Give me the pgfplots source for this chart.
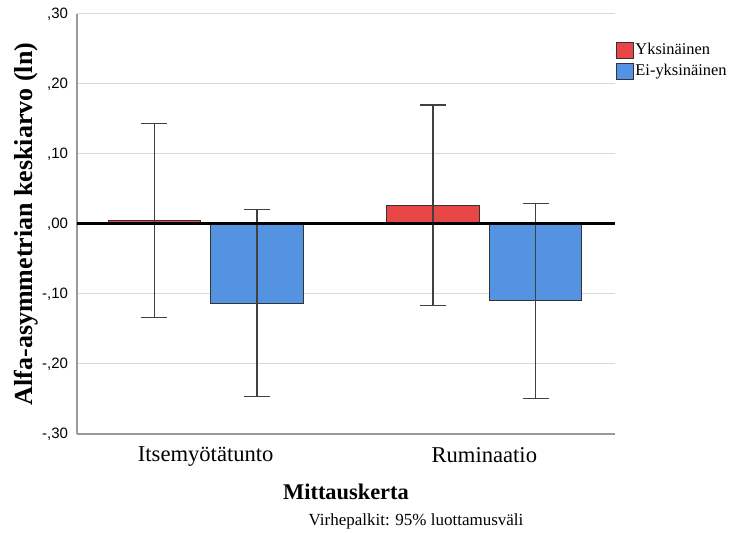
\documentclass[border=0pt]{standalone}
\usepackage{fontspec}
\setmainfont{Liberation Serif}
\setsansfont{Liberation Sans}
\usepackage{pgfplots}
\pgfplotsset{compat=1.18}
\definecolor{redbar}{HTML}{E94648}
\definecolor{bluebar}{HTML}{5393E2}
\begin{document}
\begin{tikzpicture}
\useasboundingbox (-38.5pt,-49.5pt) rectangle (326pt,217pt);
\begin{axis}[
  at={(0pt,0pt)}, anchor=south west,
  width=269pt, height=210pt, scale only axis,
  xmin=-0.462, xmax=1.469,
  ymin=-0.3, ymax=0.3,
  axis x line*=bottom, axis y line*=left,
  axis line style={gray!80, line width=0.6pt},
  ymajorgrids, grid style={gray!30, line width=0.5pt},
  major tick length=0pt,
  xtick={0,1}, xticklabels={Itsemyötätunto,Ruminaatio},
  xticklabel style={font=\fontsize{11.3}{13}\selectfont, yshift=-3pt},
  ytick={-0.3,-0.2,-0.1,0,0.1,0.2,0.3},
  yticklabels={{-,30},{-,20},{-,10},{,00},{,10},{,20},{,30}},
  yticklabel style={font=\sffamily\fontsize{7.5}{8}\selectfont, xshift=-1pt},
  xlabel={Mittauskerta},
  xlabel style={font=\bfseries\fontsize{11.2}{13}\selectfont, at={(axis description cs:0.5,0)}, anchor=center, yshift=-29pt},
  ylabel={Alfa-asymmetrian keskiarvo (ln)},
  ylabel style={font=\bfseries\fontsize{13}{15}\selectfont, at={(axis description cs:0,0.5)}, anchor=center, yshift=25.5pt},
  ybar, bar width=0.332,
  legend cell align=left,
  legend style={at={(1.002,0.941)}, anchor=north west, draw=none, fill=none,
    font=\fontsize{8.2}{9}\selectfont, inner sep=0pt, row sep=-0.5pt,
    nodes={inner xsep=0.8pt}},
  legend image code/.code={\draw[#1] (0pt,-4pt) rectangle (8.2pt,4pt);},
  error bars/y dir=both, error bars/y explicit,
  error bars/error mark=|,
  error bars/error bar style={black!75, line width=0.6pt},
  error bars/error mark options={black!75, line width=0.6pt, mark size=6.5pt},
]
\addplot[bar shift=-0.184, fill=redbar, draw=black!80, line width=0.5pt]
  coordinates {(0,0.005) +- (0,0.139) (1,0.027) +- (0,0.143)};
\addlegendentry{Yksinäinen}
\addplot[bar shift=0.184, fill=bluebar, draw=black!80, line width=0.5pt]
  coordinates {(0,-0.113) +- (0,0.134) (1,-0.110) +- (0,0.139)};
\addlegendentry{Ei-yksinäinen}
\addplot[sharp plot, black, line width=1.5pt, forget plot, no markers]
  coordinates {(-0.462,0) (1.469,0)};
\end{axis}
\node[font=\fontsize{8.5}{10}\selectfont, anchor=center] at (169.5pt,-43.5pt) {Virhepalkit: 95\% luottamusväli};
\end{tikzpicture}
\end{document}
